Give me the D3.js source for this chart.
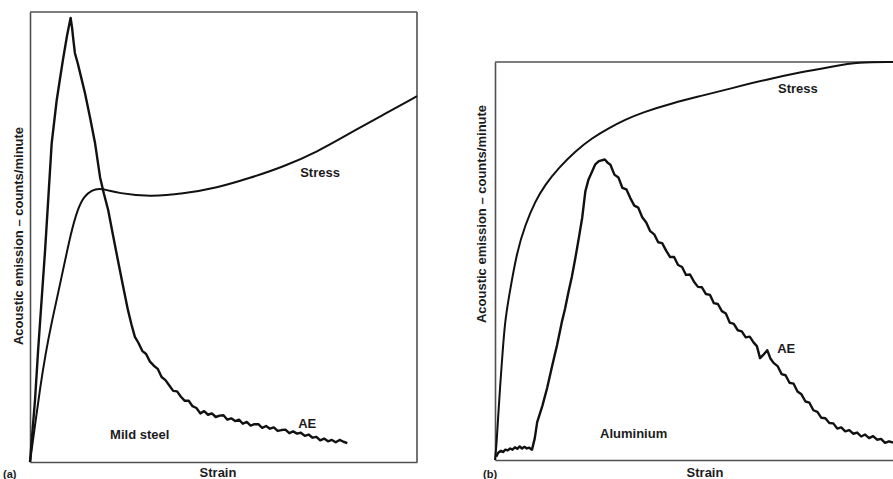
<!DOCTYPE html>
<html>
<head>
<meta charset="utf-8">
<script src="https://cdn.jsdelivr.net/npm/d3@7/dist/d3.min.js"></script>
<style>
  html, body { margin: 0; padding: 0; background: #fff; }
  svg { display: block; }
  text { font-family: "Liberation Sans", Arial, Helvetica, sans-serif; font-weight: bold; fill: #1c1c1c; }
</style>
</head>
<body>
<svg id="chart" width="893" height="479"></svg>
<script>
// Panel (a): mild steel — [strain, value] pairs, both as % of full scale
const steelAE = [
  [0,0],[0.6,6.4],[1.3,13.8],[2.1,24.9],[3.0,36],[3.9,47.1],[4.7,58.2],[5.6,70.8],[6.9,80.4],[7.7,84.9],[8.5,89.3],
  [9.6,94.9],[10.5,98.7],
  [10.9,96.3],[11.1,94.6],[11.6,90.9],[12.4,88.4],[13.3,85.2],[14.2,82],[15.5,76.6],[16.8,70.9],[18.1,63.3],[19.1,59.6],
  [20.2,56],[21.4,50.6],[22.7,44.9],[24.0,39.3],[25.3,33.8],[26.2,30.6],[27.1,27.8],
  [28,26.5],[29,24.7],[30,24.0],[31,22.3],[32,21.4],[33,20.7],[34,18.9],[35,18.2],[36,17.0],[37,15.8],[38,15.7],[39,14.5],
  [40,13.6],[41,13.6],[42,12.4],[43,12.0],[44,10.8],[45,11.3],[46,10.5],[47,10.8],[48,10.0],[49,10.3],[50,10.4],[51,9.4],
  [52,9.7],[53,9.1],[54,9.4],[55,8.5],[56,8.9],[57,8.1],[58,8.4],[59,8.4],[60,7.6],[61,8.0],[62,7.4],[63,7.7],[64,6.9],
  [65,7.1],[66,7.2],[67,6.4],[68,6.8],[69,6.3],[70,6.5],[71,5.8],[72,6.1],[73,5.4],[74,5.6],[75,4.8],[76,5.2],[77,4.6],
  [78,4.9],[79,4.4],[80,4.9],[81,4.5],[82,4.2]
];
const steelStress = [
  [0,0],[1.3,8.2],[2.6,16.4],[4.0,24],[5.6,31.1],[8.0,40.4],[10.6,51.1],[12.4,56.4],[14.0,59.1],[16.0,60.4],[17.8,60.8],
  [20.2,60.4],[22.5,59.8],[31,58.9],[39.5,59.6],[48.3,60.9],[56.8,63.1],[65.4,65.6],[74.2,68.9],[82.7,73.1],[91.2,77.1],[100,81.3]
];

// Panel (b): aluminium
const alAE = [
  [0.3,0.8],[0.8,1.8],[1.5,2.3],[2.0,2.0],[2.6,2.6],[3.2,2.4],[3.8,2.9],[4.4,2.6],[5.0,3.2],[5.6,2.8],[6.2,3.4],[6.8,2.9],
  [7.4,3.3],[8.0,2.9],[8.6,3.1],[9.3,2.6],[10.0,5.5],[10.6,9.5],[11.9,13.6],[13.1,18.1],[14.4,23.8],[15.6,28.9],
  [16.8,34.7],[17.6,38.0],[18.5,42.4],[19.3,46.0],[20.2,50.8],[21.1,56.0],[21.9,60.8],[22.7,67.5],[23.5,70.5],[24.4,72.5],
  [25.2,74.3],[26.1,75.1],[27.6,75.5],[28.4,74.6],
  [29,74.2],[30,71.7],[31,71.0],[32,68.4],[33,68.0],[34,65.8],[35,63.9],[36,63.4],[37,61.0],[38,59.7],[39,57.5],[40,56.7],
  [41,54.7],[42,54.5],[43,52.6],[44,51.0],[45,51.0],[46,49.0],[47,48.5],[48,46.5],[49,46.6],[50,44.8],[51,43.5],[52,43.4],
  [53,41.7],[54,41.5],[55,39.4],[56,39.2],[57,37.4],[58,36.8],[59,34.5],[60,34.2],[61,32.6],[62,32.3],[63,30.8],[64,31.0],
  [65,29.5],[65.8,28.6],[66.6,25.6],[67.4,26.4],[68.4,27.6],[69.2,25.5],[70,24.4],[71,23.6],[72,21.6],[73,21.3],[74,19.4],
  [75,19.2],[76,17.2],[77,16.5],[78,14.7],[79,14.4],[80,12.5],[81,12.1],[82,10.6],[83,10.5],[84,9.3],[85,9.2],[86,7.9],
  [87,8.2],[88,7.2],[89,7.5],[90,6.6],[91,6.9],[92,5.9],[93,6.4],[94,5.5],[95,6.0],[96,5.1],[97,5.3],[98,4.3],[99,4.7],[100,4.4]
];
const alStress = [
  [0,0],[0.4,4],[0.8,11],[1.26,18.1],[1.9,27],[2.5,34.7],[3.44,40.7],[5.53,52.5],[7.61,59.1],[10.1,65.0],[12.6,69.2],
  [16.0,73.4],[20.2,77.6],[24.4,80.9],[28.6,83.4],[32.7,85.5],[36.9,87.3],[45,89.8],[51.5,91.4],[59.8,93.5],[68.3,95.6],
  [76.6,97.4],[84.9,98.9],[91.2,100],[100,100]
];

const yAxisTitle = "Acoustic emission \u2013 counts/minute";
const xAxisTitle = "Strain";

const panels = [
  { tag: "(a)", name: "Mild steel", ae: steelAE, stress: steelStress,
    box: { left: 30, right: 417, top: 12, bottom: 462 }, closed: true,
    stressLabel: [69.8, 63.3], aeLabel: [69.3, 7.6], nameLabel: [20.7, 5.1],
    strainX: 218, titleX: 23, titleY: 236, tagX: 3 },
  { tag: "(b)", name: "Aluminium", ae: alAE, stress: alStress,
    box: { left: 495, right: 893, top: 62, bottom: 460 }, closed: false,
    stressLabel: [71.1, 92.2], aeLabel: [70.9, 26.9], nameLabel: [26.4, 5.5],
    strainX: 705, titleX: 486, titleY: 214, tagX: 483 }
];

const svg = d3.select("#chart");

panels.forEach(p => {
  const x = d3.scaleLinear().domain([0, 100]).range([p.box.left, p.box.right]);
  const y = d3.scaleLinear().domain([0, 100]).range([p.box.bottom, p.box.top]);
  const g = svg.append("g");

  // frame: left and bottom via axes without ticks, top (and right) as plain rules
  const frameColor = "#505050";
  g.append("g").attr("transform", `translate(0,${p.box.bottom})`)
    .call(d3.axisBottom(x).ticks(0).tickSizeOuter(0))
    .call(s => s.select(".domain").attr("stroke", frameColor).attr("stroke-width", 1.6));
  g.append("g").attr("transform", `translate(${p.box.left},0)`)
    .call(d3.axisLeft(y).ticks(0).tickSizeOuter(0))
    .call(s => s.select(".domain").attr("stroke", frameColor).attr("stroke-width", 1.6));
  g.append("line").attr("x1", x(0)).attr("x2", x(100)).attr("y1", y(100)).attr("y2", y(100))
    .attr("stroke", frameColor).attr("stroke-width", 1.6);
  if (p.closed) {
    g.append("line").attr("x1", x(100)).attr("x2", x(100)).attr("y1", y(0)).attr("y2", y(100))
      .attr("stroke", frameColor).attr("stroke-width", 1.6);
  }

  const smooth = d3.line().x(d => x(d[0])).y(d => y(d[1])).curve(d3.curveBasis);
  const rough = d3.line().x(d => x(d[0])).y(d => y(d[1])).curve(d3.curveLinear);

  g.append("path").attr("d", smooth(p.stress)).attr("fill", "none")
    .attr("stroke", "#111").attr("stroke-width", 2).attr("stroke-linejoin", "round");
  g.append("path").attr("d", rough(p.ae)).attr("fill", "none")
    .attr("stroke", "#111").attr("stroke-width", 2.4).attr("stroke-linejoin", "round");

  // curve and material labels
  g.append("text").attr("x", x(p.stressLabel[0])).attr("y", y(p.stressLabel[1]))
    .attr("font-size", 13).text("Stress");
  g.append("text").attr("x", x(p.aeLabel[0])).attr("y", y(p.aeLabel[1]))
    .attr("font-size", 13).text("AE");
  g.append("text").attr("x", x(p.nameLabel[0])).attr("y", y(p.nameLabel[1]))
    .attr("font-size", 13).text(p.name);

  // axis titles and panel tag
  g.append("text").attr("x", p.strainX).attr("y", 477)
    .attr("text-anchor", "middle").attr("font-size", 13).text(xAxisTitle);
  g.append("text").attr("transform", `translate(${p.titleX},${p.titleY}) rotate(-90)`)
    .attr("text-anchor", "middle").attr("font-size", 13).text(yAxisTitle);
  g.append("text").attr("x", p.tagX).attr("y", 478).attr("font-size", 11).text(p.tag);
});
</script>
</body>
</html>
